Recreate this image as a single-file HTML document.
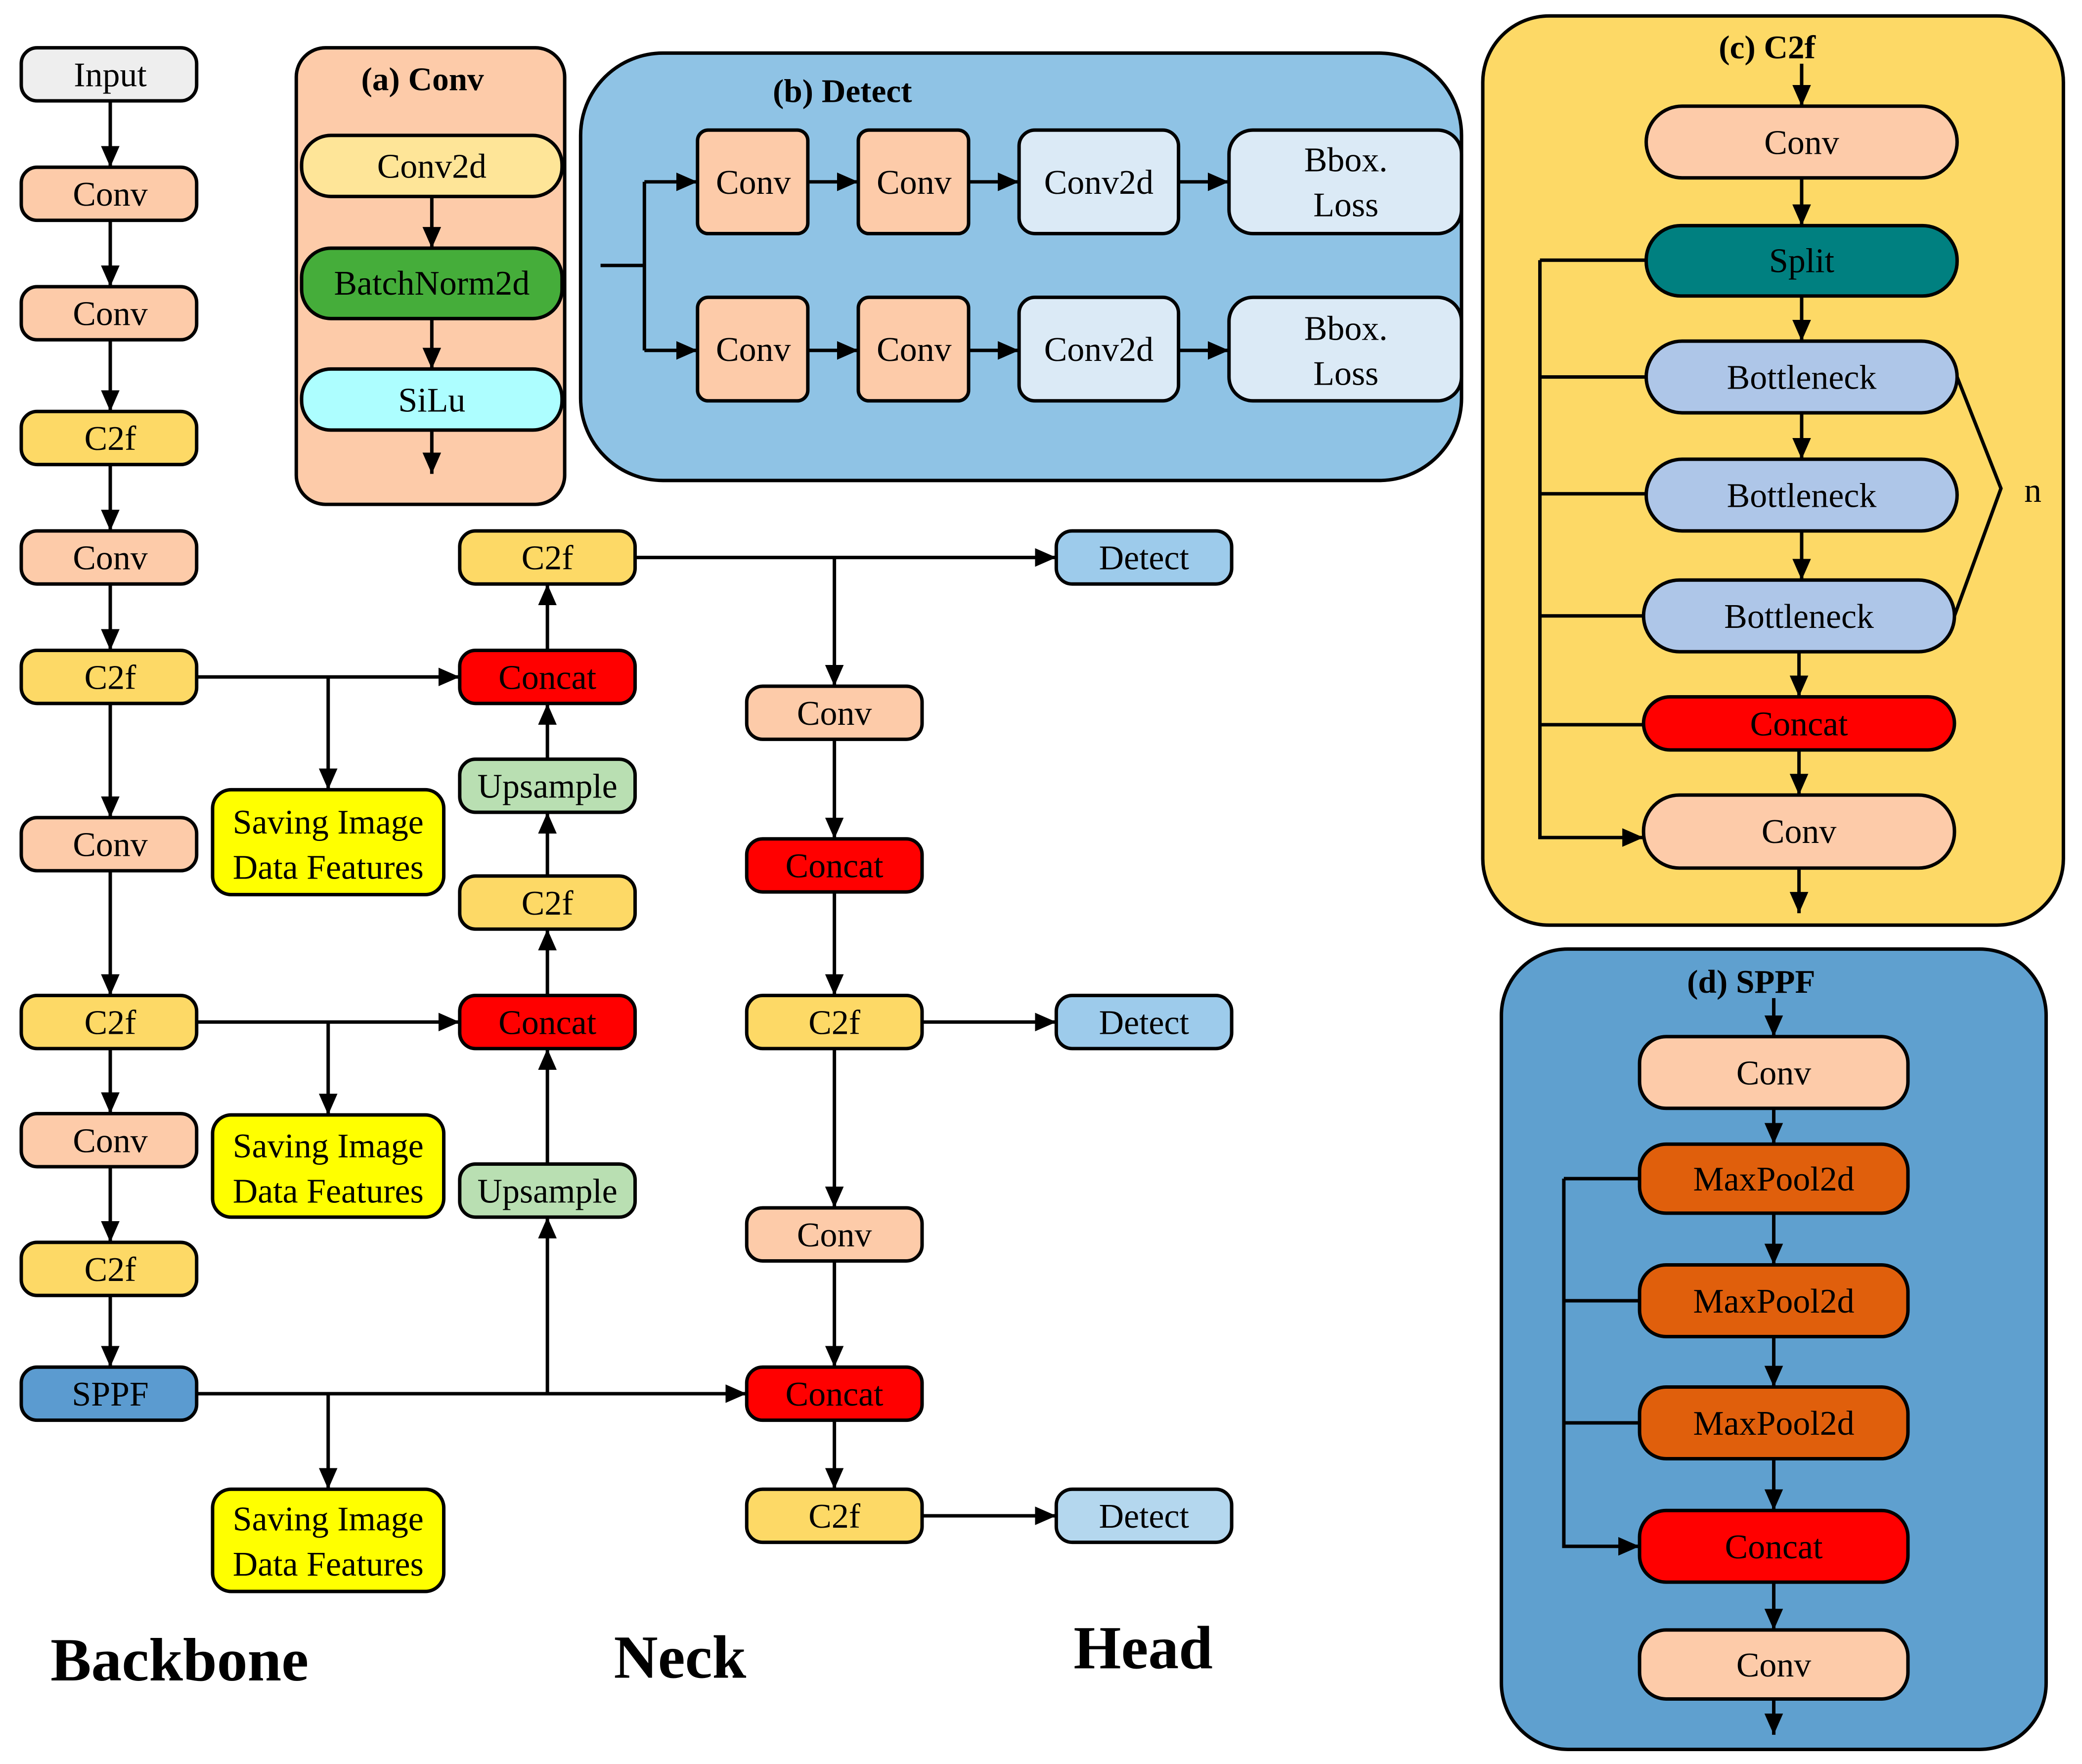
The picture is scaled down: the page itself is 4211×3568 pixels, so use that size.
<!DOCTYPE html>
<html><head><meta charset="utf-8"><style>
html,body{margin:0;padding:0;background:#fff;}
svg{display:block;width:4211px;height:3568px;}
text{font-family:"Liberation Serif","DejaVu Serif",serif;}
</style></head><body>
<svg viewBox="0 0 1567 1329" preserveAspectRatio="none" xmlns="http://www.w3.org/2000/svg" font-family="Liberation Serif, DejaVu Serif, serif">
<defs>
<marker id="a" viewBox="0 0 16 14" refX="16" refY="7" markerWidth="16" markerHeight="14" orient="auto" markerUnits="userSpaceOnUse"><path d="M0,0 L16,7 L0,14 z" fill="#000"/></marker>
</defs>
<g stroke="#000" stroke-width="2.6">
<rect x="223" y="36" width="202" height="344" rx="22" fill="#fdcba9"/>
<rect x="437" y="40" width="663" height="322" rx="62" fill="#8fc3e5"/>
<rect x="1116" y="12" width="437" height="685" rx="50" fill="#fdd966"/>
<rect x="1130" y="715" width="410" height="603" rx="50" fill="#5fa0cf"/>
</g>
<g font-size="25" text-anchor="middle" font-weight="bold" font-family="Liberation Serif, DejaVu Serif, serif">
<text x="318" y="68">(a) Conv</text>
<text x="634" y="77">(b) Detect</text>
<text x="1330" y="44">(c) C2f</text>
<text x="1318" y="748">(d) SPPF</text>
</g>
<g stroke="#000" stroke-width="2.6" fill="none" marker-end="url(#a)">
<path d="M83 76V126"/><path d="M83 166V216"/><path d="M83 256V310"/><path d="M83 350V400"/><path d="M83 440V490"/><path d="M83 530V616"/><path d="M83 656V750"/><path d="M83 790V839"/><path d="M83 879V936"/><path d="M83 976V1030"/>
<path d="M325 148V187"/><path d="M325 240V278"/><path d="M325 324V357"/>
<path d="M485 137H525"/><path d="M485 264H525"/>
<path d="M608 137H646"/><path d="M729 137H767"/><path d="M887 137H925"/>
<path d="M608 264H646"/><path d="M729 264H767"/><path d="M887 264H925"/>
<path d="M148 510H346"/><path d="M247 510V595"/>
<path d="M148 770H346"/><path d="M247 770V840"/>
<path d="M148 1050H562"/><path d="M247 1050V1122"/><path d="M412 1050V917"/>
<path d="M412 877V790"/><path d="M412 750V700"/><path d="M412 660V612"/><path d="M412 572V530"/><path d="M412 490V440"/>
<path d="M478 420H795"/><path d="M628 420V517"/>
<path d="M628 557V632"/><path d="M628 672V750"/><path d="M694 770H795"/><path d="M628 790V910"/><path d="M628 950V1030"/><path d="M628 1070V1122"/><path d="M694 1142H795"/>
<path d="M1356 48V80"/><path d="M1356 134V170"/><path d="M1356 223V257"/><path d="M1356 311V346"/><path d="M1356 400V437"/><path d="M1354 491V525"/><path d="M1354 565V599"/><path d="M1354 654V688"/>
<path d="M1159 196V631H1237"/>
<path d="M1335 752V781"/><path d="M1335 835V862"/><path d="M1335 914V953"/><path d="M1335 1007V1045"/><path d="M1335 1099V1138"/><path d="M1335 1192V1228"/><path d="M1335 1280V1307"/>
<path d="M1177 888V1165H1234"/>
</g>
<g stroke="#000" stroke-width="2.6" fill="none">
<path d="M452 200H485V264M485 200V137"/>
<path d="M1239 196H1159M1159 284H1239M1159 372H1239M1159 464H1237M1159 546H1237"/>
<path d="M1473 284L1506 368L1471 464"/>
<path d="M1234 888H1177M1177 980H1234M1177 1072H1234"/>
</g>
<g stroke="#000" stroke-width="2.6">
<rect x="16" y="36" width="132" height="40" rx="12" fill="#eeeeee"/>
<rect x="16" y="126" width="132" height="40" rx="12" fill="#fdcba9"/>
<rect x="16" y="216" width="132" height="40" rx="12" fill="#fdcba9"/>
<rect x="16" y="310" width="132" height="40" rx="12" fill="#fdd966"/>
<rect x="16" y="400" width="132" height="40" rx="12" fill="#fdcba9"/>
<rect x="16" y="490" width="132" height="40" rx="12" fill="#fdd966"/>
<rect x="16" y="616" width="132" height="40" rx="12" fill="#fdcba9"/>
<rect x="16" y="750" width="132" height="40" rx="12" fill="#fdd966"/>
<rect x="16" y="839" width="132" height="40" rx="12" fill="#fdcba9"/>
<rect x="16" y="936" width="132" height="40" rx="12" fill="#fdd966"/>
<rect x="16" y="1030" width="132" height="40" rx="12" fill="#5b9bd0"/>
<rect x="227" y="102" width="196" height="46" rx="22" fill="#fee598"/>
<rect x="227" y="187" width="196" height="53" rx="22" fill="#45ad3a"/>
<rect x="227" y="278" width="196" height="46" rx="22" fill="#adfeff"/>
<rect x="525" y="98" width="83" height="78" rx="8" fill="#fdcba9"/>
<rect x="646" y="98" width="83" height="78" rx="8" fill="#fdcba9"/>
<rect x="767" y="98" width="120" height="78" rx="12" fill="#dbeaf6"/>
<rect x="925" y="98" width="175" height="78" rx="18" fill="#dbeaf6"/>
<rect x="525" y="224" width="83" height="78" rx="8" fill="#fdcba9"/>
<rect x="646" y="224" width="83" height="78" rx="8" fill="#fdcba9"/>
<rect x="767" y="224" width="120" height="78" rx="12" fill="#dbeaf6"/>
<rect x="925" y="224" width="175" height="78" rx="18" fill="#dbeaf6"/>
<rect x="346" y="400" width="132" height="40" rx="12" fill="#fdd966"/>
<rect x="346" y="490" width="132" height="40" rx="12" fill="#ff0000"/>
<rect x="346" y="572" width="132" height="40" rx="12" fill="#b9dfb2"/>
<rect x="346" y="660" width="132" height="40" rx="12" fill="#fdd966"/>
<rect x="346" y="750" width="132" height="40" rx="12" fill="#ff0000"/>
<rect x="346" y="877" width="132" height="40" rx="12" fill="#b9dfb2"/>
<rect x="160" y="595" width="174" height="79" rx="14" fill="#ffff00"/>
<rect x="160" y="840" width="174" height="77" rx="14" fill="#ffff00"/>
<rect x="160" y="1122" width="174" height="77" rx="14" fill="#ffff00"/>
<rect x="562" y="517" width="132" height="40" rx="12" fill="#fdcba9"/>
<rect x="562" y="632" width="132" height="40" rx="12" fill="#ff0000"/>
<rect x="562" y="750" width="132" height="40" rx="12" fill="#fdd966"/>
<rect x="562" y="910" width="132" height="40" rx="12" fill="#fdcba9"/>
<rect x="562" y="1030" width="132" height="40" rx="12" fill="#ff0000"/>
<rect x="562" y="1122" width="132" height="40" rx="12" fill="#fdd966"/>
<rect x="795" y="400" width="132" height="40" rx="12" fill="#9dcbeb"/>
<rect x="795" y="750" width="132" height="40" rx="12" fill="#9dcbeb"/>
<rect x="795" y="1122" width="132" height="40" rx="12" fill="#b4d7ee"/>
<rect x="1239" y="80" width="234" height="54" rx="27" fill="#fdcba9"/>
<rect x="1239" y="170" width="234" height="53" rx="26" fill="#008080"/>
<rect x="1239" y="257" width="234" height="54" rx="27" fill="#aec6e8"/>
<rect x="1239" y="346" width="234" height="54" rx="27" fill="#aec6e8"/>
<rect x="1237" y="437" width="234" height="54" rx="27" fill="#aec6e8"/>
<rect x="1237" y="525" width="234" height="40" rx="20" fill="#ff0000"/>
<rect x="1237" y="599" width="234" height="55" rx="27" fill="#fdcba9"/>
<rect x="1234" y="781" width="202" height="54" rx="20" fill="#fdcba9"/>
<rect x="1234" y="862" width="202" height="52" rx="20" fill="#e05f0c"/>
<rect x="1234" y="953" width="202" height="54" rx="20" fill="#e05f0c"/>
<rect x="1234" y="1045" width="202" height="54" rx="20" fill="#e05f0c"/>
<rect x="1234" y="1138" width="202" height="54" rx="20" fill="#ff0000"/>
<rect x="1234" y="1228" width="202" height="52" rx="20" fill="#fdcba9"/>
</g>
<g font-size="26" text-anchor="middle" fill="#000" font-family="Liberation Serif, DejaVu Serif, serif">
<text x="83" y="65">Input</text>
<text x="83" y="155">Conv</text><text x="83" y="245">Conv</text><text x="83" y="339">C2f</text><text x="83" y="429">Conv</text><text x="83" y="519">C2f</text><text x="83" y="645">Conv</text><text x="83" y="779">C2f</text><text x="83" y="868">Conv</text><text x="83" y="965">C2f</text><text x="83" y="1059">SPPF</text>
<text x="325" y="134">Conv2d</text><text x="325" y="222">BatchNorm2d</text><text x="325" y="310">SiLu</text>
<text x="567" y="146">Conv</text><text x="688" y="146">Conv</text><text x="827" y="146">Conv2d</text><text x="1013" y="129">Bbox.</text><text x="1013" y="163">Loss</text>
<text x="567" y="272">Conv</text><text x="688" y="272">Conv</text><text x="827" y="272">Conv2d</text><text x="1013" y="256">Bbox.</text><text x="1013" y="290">Loss</text>
<text x="412" y="429">C2f</text><text x="412" y="519">Concat</text><text x="412" y="601">Upsample</text><text x="412" y="689">C2f</text><text x="412" y="779">Concat</text><text x="412" y="906">Upsample</text>
<text x="247" y="628">Saving Image</text><text x="247" y="662">Data Features</text>
<text x="247" y="872">Saving Image</text><text x="247" y="906">Data Features</text>
<text x="247" y="1153">Saving Image</text><text x="247" y="1187">Data Features</text>
<text x="628" y="546">Conv</text><text x="628" y="661">Concat</text><text x="628" y="779">C2f</text><text x="628" y="939">Conv</text><text x="628" y="1059">Concat</text><text x="628" y="1151">C2f</text>
<text x="861" y="429">Detect</text><text x="861" y="779">Detect</text><text x="861" y="1151">Detect</text>
<text x="1356" y="116">Conv</text><text x="1356" y="205">Split</text><text x="1356" y="293">Bottleneck</text><text x="1356" y="382">Bottleneck</text><text x="1354" y="473">Bottleneck</text><text x="1354" y="554">Concat</text><text x="1354" y="635">Conv</text>
<text x="1530" y="378">n</text>
<text x="1335" y="817">Conv</text><text x="1335" y="897">MaxPool2d</text><text x="1335" y="989">MaxPool2d</text><text x="1335" y="1081">MaxPool2d</text><text x="1335" y="1174">Concat</text><text x="1335" y="1263">Conv</text>
</g>
<g font-size="46" font-weight="bold" font-family="Liberation Serif, DejaVu Serif, serif">
<text x="38" y="1266">Backbone</text>
<text x="462" y="1264">Neck</text>
<text x="808" y="1257">Head</text>
</g>
</svg>
</body></html>
